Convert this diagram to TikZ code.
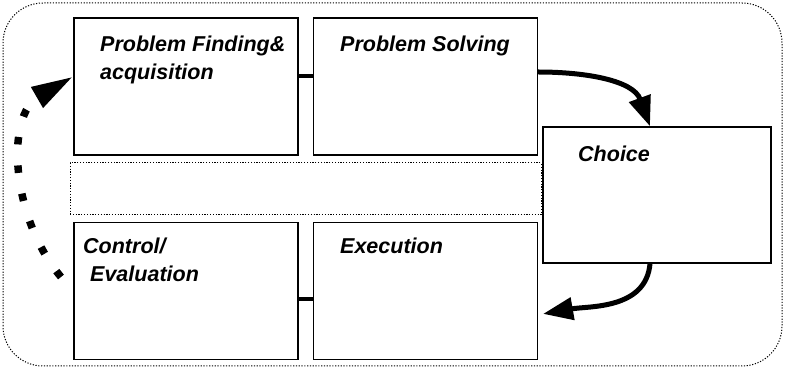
\documentclass[tikz,border=0pt]{standalone}
\usepackage{fontspec}
\setmainfont{Liberation Sans}
\usetikzlibrary{arrows.meta,positioning}

\begin{document}
\begin{tikzpicture}[x=1pt,y=1pt,
    stage/.style={draw,line width=1.4pt,minimum width=224pt,minimum height=137pt,inner sep=0pt},
    frame/.style={draw,line width=1pt,dash pattern=on 1.2pt off 1.6pt},
    txt/.style={anchor=base west,inner sep=0pt,font=\fontsize{21.5}{28}\selectfont\bfseries\itshape},
    link/.style={line width=4pt},
    flow/.style={line width=5pt,-{Triangle[length=30pt,width=22pt]}}]
  \useasboundingbox (0,0) rectangle (785,369);
  \draw[frame,rounded corners=40pt] (3,3) rectangle (782,366);
  % the four stages and the choice
  \node[stage] (find) at (186,282.5) {};
  \node[stage,right=14pt of find] (solve) {};
  \node[stage,below=66pt of find] (control) {};
  \node[stage,right=14pt of control] (exec) {};
  \node[stage,minimum width=228pt,minimum height=136pt] (choice) at (657,174) {};
  \node[frame,minimum width=471pt,minimum height=52pt] (gap) at (305.5,180) {};
  \node[txt] (findtxt) at (100,317) {Problem Finding\&};
  \node[txt] (findtxtb) at (100,289) {acquisition};
  \node[txt] (solvetxt) at (340,317) {Problem Solving};
  \node[txt] (choicetxt) at (578,207) {Choice};
  \node[txt] (controltxt) at (83,115) {Control/};
  \node[txt] (controltxtb) at (90,87) {Evaluation};
  \node[txt] (exectxt) at (340,115) {Execution};
  % links
  \draw[link] ([yshift=10pt]find.east) -- ([yshift=10pt]solve.west);
  \draw[link] ([yshift=-8pt]control.east) -- ([yshift=-8pt]exec.west);
  \draw[flow] ([yshift=14.5pt]solve.east) to[out=0,in=110] ([xshift=-7pt]choice.north);
  \draw[flow] ([xshift=-7pt]choice.south) to[out=-95,in=10] ([xshift=5pt,yshift=-23pt]exec.east);
  \coordinate (loopstart) at (61,92);
  \draw[line width=7.5pt,dash pattern=on 7.5pt off 21pt,-{Triangle[length=42pt,width=22pt]}]
    (loopstart) to[out=130,in=210] ([yshift=10pt]find.west);
\end{tikzpicture}
\end{document}
